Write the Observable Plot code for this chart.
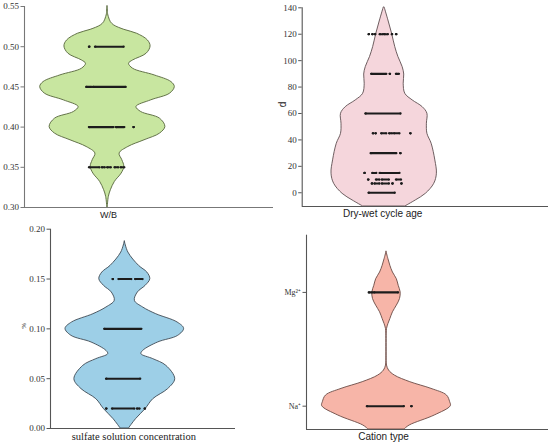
<!DOCTYPE html>
<html>
<head>
<meta charset="utf-8">
<script src="https://cdn.jsdelivr.net/npm/d3@7"></script>
<script src="https://cdn.jsdelivr.net/npm/@observablehq/plot@0.6"></script>
<style>
  html, body { margin: 0; padding: 0; background: #fff; }
  #wrap { position: relative; width: 550px; height: 445px; overflow: hidden; }
  #wrap > svg { position: absolute; }
</style>
</head>
<body>
<div id="wrap"></div>
<script>
// ---------- Panel 1: W/B ----------
const wbTicks = [0.30, 0.35, 0.40, 0.45, 0.50, 0.55];
const wbProfileY = [0.5500,0.5409,0.5368,0.5305,0.5264,0.5210,0.5161,0.5078,0.5003,0.4912,0.4829,0.4788,0.4726,0.4643,0.4560,0.4498,0.4416,0.4333,0.4250,0.4188,0.4105,0.4002,0.3919,0.3836,0.3753,0.3671,0.3588,0.3505,0.3422,0.3319,0.3215,0.3132,0.3000];
const wbProfileW = [0.3,0.8,2,5,10,25,44,60,64,58,38,32,38,70,95,100,93,65,43,50,78,86,78,55,31,18,22,25,21,11,5,2,0.3];
// dot runs: [value, from, to] (offsets in density units)
const wbDots = [[0.50,-27,-27],[0.50,-18,24],
  [0.45,-31,-24],[0.45,-21,27],
  [0.40,-27,9],[0.40,13,25],[0.40,39,39],
  [0.35,-27,-12],[0.35,-8,-4],[0.35,0,5],[0.35,11,16],[0.35,20,25]];

// ---------- Panel 2: Dry-wet cycle age ----------
const dwTicks = [0, 20, 40, 60, 80, 100, 120, 140];
const dwProfileY = [140,130.4,120.3,110.2,102.7,95.1,89.5,82.5,74.9,69.9,64.8,59.8,52.2,44.6,37.1,24.5,14.4,6.8,-0.8,-5.8,-10.4];
const dwProfileW = [1,8,15,21,27,35,38,37,40,54,73,82,81,82,90,97,100,95,79,60,40];
const dwDots = [[120,-29,-29],[120,-22,-22],[120,-17,-17],[120,-8,-2],[120,1,7],[120,15,15],[120,23,23],
  [90,-24,4],[90,11,11],[90,23,28],
  [60,-35,31],
  [45,-21,-21],[45,-16,-16],[45,-5,4],[45,10,15],[45,19,29],[45,50,50],
  [30,-25,23],[30,31,31],
  [15,-37,-37],[15,-22,-15],[15,-8,29],
  [10,-30,-30],[10,-15,-9],[10,-4,9],[10,23,32],
  [7,-23,-23],[7,-18,-9],[7,-4,9],[7,16,16],[7,33,33],
  [0,-29,20]];

// ---------- Panel 3: sulfate solution concentration ----------
const scTicks = [0.00, 0.05, 0.10, 0.15, 0.20];
const scProfileY = [0.1876,0.1766,0.1632,0.1565,0.1498,0.1431,0.1365,0.1281,0.1214,0.1147,0.1064,0.1000,0.0930,0.0863,0.0779,0.0746,0.0696,0.0629,0.0495,0.0395,0.0294,0.0194,0.0094,0.0000];
const scProfileW = [0,6,24,38,43,35,22,17,31,53,89,100,90,56,31,28,48,70,85,73,48,35,19,7];
const scDots = [[0.15,-20,-20],[0.15,-10,11],[0.15,18,30],
  [0.10,-34,28],
  [0.05,-31,26],
  [0.02,-31,-31],[0.02,-21,16],[0.02,21,25],[0.02,34,34]];

// ---------- Panel 4: Cation type ----------
const ctTicks = [0, 1];
const ctTickLabels = ["Na\u207A", "Mg\u00B2\u207A"];
const ctProfileY = [1.357,1.292,1.234,1.175,1.117,1.058,1.000,0.942,0.883,0.825,0.766,0.722,0.678,0.591,0.444,0.357,0.313,0.269,0.211,0.152,0.094,0.035,0.000,-0.082,-0.170,-0.205];
const ctProfileW = [0,3,6,10,16,19,22,21,16,10,6,3,0.8,0.1,0.1,0.8,4,13,37,70,94,99,100,75,36,28];
const ctDots = [[1,-27,-22],[1,-19,18],
  [0,-30,27],[0,39,39]];

const SERIF = "'Liberation Serif','Times New Roman',serif";
const SANS = "'Liberation Sans',Arial,sans-serif";

function panel(cfg) {
  const profile = cfg.py.map((v, i) => ({v, w: cfg.pw[i]}));
  const dots = cfg.dots.map(([v, a, b]) => ({v, a, b}));
  const W = cfg.width, H = cfg.height;
  const xmin = -(cfg.center - cfg.ml) / cfg.maxHw * 100;
  const xmax = (W - cfg.mr - cfg.center) / cfg.maxHw * 100;
  const marks = [
    Plot.areaX(profile, {y: "v", x1: d => -d.w, x2: d => d.w, curve: "catmull-rom",
      fill: cfg.fill, stroke: cfg.stroke, strokeWidth: 0.9}),
    Plot.ruleY(dots, {y: "v", x1: "a", x2: "b", stroke: "#1c1c1c", strokeWidth: 2.1, strokeLinecap: "round"}),
    Plot.dot(dots, {y: "v", x: "a", r: 1.15, fill: "#1c1c1c"}),
    Plot.dot(dots, {y: "v", x: "b", r: 1.15, fill: "#1c1c1c"}),
    Plot.ruleX([xmin], {y1: cfg.ydomain[0], y2: cfg.ydomain[1], stroke: cfg.axisColor, strokeWidth: 1.1}),
    Plot.ruleY([cfg.ydomain[0]], {x1: xmin, x2: xmax, stroke: cfg.axisColor, strokeWidth: 1.1}),
    Plot.axisY({ticks: cfg.ticks, tickSize: 3.5, tickPadding: 2, tickFormat: cfg.tickFormat, label: null,
      fontFamily: SERIF, fontSize: cfg.tickFont || 9, stroke: cfg.axisColor, fill: "#333"}),
    Plot.text([cfg.xlabel], {frameAnchor: "bottom", x: 0, dx: cfg.labelDx, dy: cfg.labelDy,
      text: d => d, fontFamily: cfg.labelFamily, fontSize: cfg.labelSize, fill: "#222", textAnchor: "middle"})
  ];
  if (cfg.ylabel) {
    marks.push(Plot.text([cfg.ylabel], {frameAnchor: "left", dx: cfg.ylabelDx, rotate: -90, text: d => d,
      fontFamily: cfg.ylabelFamily, fontSize: cfg.ylabelSize, fill: "#222"}));
  }
  const svg = Plot.plot({
    width: W, height: H,
    marginLeft: cfg.ml, marginRight: cfg.mr, marginTop: cfg.mt, marginBottom: cfg.mb,
    x: {domain: [xmin, xmax], axis: null},
    y: {domain: cfg.ydomain, axis: null},
    style: {fontFamily: SERIF, fontSize: "9px", background: "transparent", overflow: "visible"},
    marks
  });
  svg.style.left = cfg.left + "px";
  svg.style.top = cfg.top + "px";
  return svg;
}

const wrap = document.getElementById("wrap");
wrap.appendChild(panel({
  left: 0, top: 0, width: 275, height: 222, ml: 24, mr: 2, mt: 6, mb: 15,
  center: 107, maxHw: 67.3, ydomain: [0.30, 0.55], ticks: wbTicks, tickFormat: d3.format(".2f"),
  py: wbProfileY, pw: wbProfileW, dots: wbDots,
  fill: "#c8e6a0", stroke: "#55643a", axisColor: "#777",
  xlabel: "W/B", labelFamily: SANS, labelSize: 9, labelDx: 1, labelDy: 10
}));
wrap.appendChild(panel({
  left: 275, top: 0, width: 275, height: 222, ml: 26.7, mr: 2, mt: 7.3, mb: 16,
  center: 108.7, maxHw: 52.7, ydomain: [-10.4, 140], ticks: dwTicks, tickFormat: d3.format("d"),
  py: dwProfileY, pw: dwProfileW, dots: dwDots,
  fill: "#f5d6dc", stroke: "#5e4e50", axisColor: "#555",
  xlabel: "Dry-wet cycle age", labelFamily: SANS, labelSize: 10, labelDx: -1.5, labelDy: 10,
  ylabel: "d", ylabelFamily: SANS, ylabelSize: 10, ylabelDx: -19
}));
wrap.appendChild(panel({
  left: 0, top: 222, width: 275, height: 223, ml: 50, mr: 40, mt: 6.7, mb: 17,
  center: 124.3, maxHw: 59.3, ydomain: [0, 0.20], ticks: scTicks, tickFormat: d3.format(".2f"),
  py: scProfileY, pw: scProfileW, dots: scDots,
  fill: "#9dcfe7", stroke: "#3e4a54", axisColor: "#555",
  xlabel: "sulfate solution concentration", labelFamily: SERIF, labelSize: 10.5, labelDx: 9, labelDy: 11,
  ylabel: "%", ylabelFamily: SERIF, ylabelSize: 7, ylabelDx: -27
}));
wrap.appendChild(panel({
  left: 275, top: 222, width: 275, height: 223, ml: 31, mr: 2, mt: 12.7, mb: 16,
  center: 111, maxHw: 64.3, ydomain: [-0.205, 1.503], ticks: ctTicks, tickFormat: d => ctTickLabels[d],
  tickFont: 8,
  py: ctProfileY, pw: ctProfileW, dots: ctDots,
  fill: "#f7b5a8", stroke: "#6a4a44", axisColor: "#555",
  xlabel: "Cation type", labelFamily: SANS, labelSize: 10, labelDx: -3, labelDy: 10
}));
</script>
</body>
</html>
